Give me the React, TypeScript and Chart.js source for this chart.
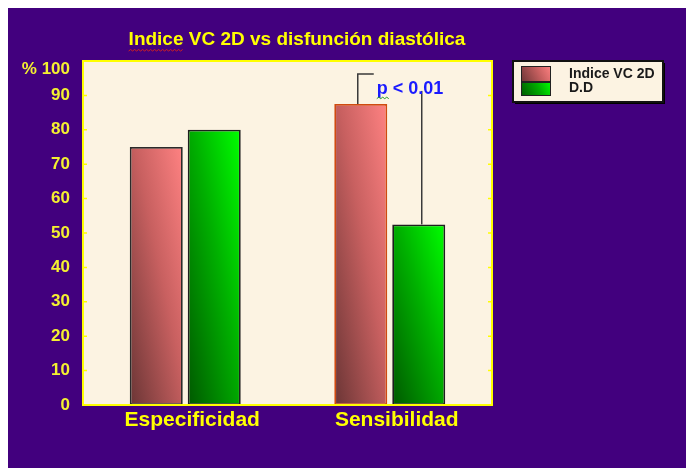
import React, { useEffect, useRef } from "react";
import { Chart, registerables } from "chart.js";

Chart.register(...registerables);

const categories = ["Especificidad", "Sensibilidad"];
const seriesNames = ["Indice VC 2D", "D.D"];
const indiceVC = [75, 87.5];
const dd = [80, 52.5];
const yTicks = [0, 10, 20, 30, 40, 50, 60, 70, 80, 90, 100];
const titleText = "Indice VC 2D vs disfunción diastólica";
const pText = "p < 0.01";

const FONT = "'Liberation Sans', Arial, sans-serif";
const PURPLE = "#42007e";
const CREAM = "#fcf3e2";
const YELLOW = "#ffff00";
const CAT_PCT = 0.567;
const BAR_PCT = 0.914;

const pinkStops = ["#6a3535", "#c86060", "#ff8282"];
const greenStops = ["#005800", "#00b000", "#00ff00"];

function barGradient(c: any, stops: string[]) {
  const chart = c.chart;
  const xs = chart.scales?.x;
  const ys = chart.scales?.y;
  if (!xs || !ys || c.dataIndex === undefined || c.raw === undefined) return stops[2];
  const di = c.datasetIndex;
  const n = categories.length;
  const catW = (xs.right - xs.left) / n;
  const slot = (catW * CAT_PCT) / 2;
  const w = slot * BAR_PCT;
  const cx = xs.getPixelForValue(c.dataIndex) + (di - 0.5) * slot;
  const xl = cx - w / 2;
  const yb = ys.getPixelForValue(0);
  const yt = ys.getPixelForValue(c.raw);
  const h = Math.max(1, yb - yt);
  const k = (2 * h) / ((h * h) / (w * w) + 1);
  const dx = (k * h) / w;
  const dy = k;
  const vals = [xl, yb, dx, dy, w, h];
  if (!vals.every((v) => Number.isFinite(v)) || w <= 0) return stops[2];
  const g = chart.ctx.createLinearGradient(xl, yb, xl + dx, yb - dy);
  g.addColorStop(0, stops[0]);
  g.addColorStop(0.55, stops[1]);
  g.addColorStop(1, stops[2]);
  return g;
}

function squiggle(ctx: CanvasRenderingContext2D, x0: number, x1: number, y: number, color: string) {
  ctx.save();
  ctx.strokeStyle = color;
  ctx.lineWidth = 1;
  ctx.beginPath();
  let up = true;
  ctx.moveTo(x0, y);
  for (let x = x0 + 2; x <= x1; x += 2) {
    ctx.lineTo(x, up ? y - 1.5 : y);
    up = !up;
  }
  ctx.stroke();
  ctx.restore();
}

const decorPlugin = {
  id: "decor",
  beforeDraw(chart: any) {
    const { ctx, width, height } = chart;
    ctx.save();
    ctx.fillStyle = PURPLE;
    ctx.fillRect(0, 0, width, height);
    ctx.restore();
  },
  beforeDatasetsDraw(chart: any) {
    const { ctx, chartArea: a } = chart;
    ctx.save();
    ctx.fillStyle = CREAM;
    ctx.fillRect(a.left, a.top, a.right - a.left, a.bottom - a.top);
    ctx.restore();
  },
  afterDatasetsDraw(chart: any) {
    const { ctx, chartArea: a } = chart;
    const ys = chart.scales.y;
    ctx.save();
    ctx.strokeStyle = YELLOW;
    ctx.lineWidth = 1.5;
    yTicks.forEach((v) => {
      const y = ys.getPixelForValue(v);
      ctx.beginPath();
      ctx.moveTo(a.left, y);
      ctx.lineTo(a.left + 4, y);
      ctx.moveTo(a.right, y);
      ctx.lineTo(a.right - 4, y);
      ctx.stroke();
    });
    ctx.lineWidth = 2;
    ctx.strokeRect(a.left, a.top, a.right - a.left, a.bottom - a.top);

    const b0 = chart.getDatasetMeta(0).data[1];
    const b1 = chart.getDatasetMeta(1).data[1];
    if (b0 && b1) {
      const topY = ys.getPixelForValue(96.2);
      const rightTop = ys.getPixelForValue(91.3);
      ctx.strokeStyle = "#3a3a3a";
      ctx.lineWidth = 1.5;
      ctx.beginPath();
      ctx.moveTo(b0.x - 3, b0.y);
      ctx.lineTo(b0.x - 3, topY);
      ctx.lineTo(b0.x + 13, topY);
      ctx.stroke();
      ctx.beginPath();
      ctx.moveTo(b1.x + 3, b1.y);
      ctx.lineTo(b1.x + 3, rightTop);
      ctx.stroke();
      ctx.fillStyle = "#1a1aff";
      ctx.font = `bold 18px ${FONT}`;
      ctx.textAlign = "left";
      ctx.textBaseline = "alphabetic";
      const tx = b0.x + 16;
      const ty = ys.getPixelForValue(90.5);
      ctx.fillText(pText, tx, ty);
      squiggle(ctx, tx, tx + 13, ty + 5, "#2a9a2a");
    }
    ctx.restore();
  },
  afterDraw(chart: any) {
    const { ctx } = chart;
    ctx.save();
    ctx.font = `bold 19px ${FONT}`;
    ctx.fillStyle = YELLOW;
    ctx.textAlign = "center";
    ctx.textBaseline = "alphabetic";
    ctx.fillText(titleText, 289, 37);
    const tw = ctx.measureText(titleText).width;
    const iw = ctx.measureText("Indice").width;
    const tx0 = 289 - tw / 2;
    squiggle(ctx, tx0, tx0 + iw, 43, "#d02020");

    const lx = 505, ly = 53, lw = 150, lh = 41;
    ctx.fillStyle = "#000000";
    ctx.fillRect(lx + 2, ly + 2, lw, lh);
    ctx.fillStyle = CREAM;
    ctx.fillRect(lx, ly, lw, lh);
    ctx.strokeStyle = "#111111";
    ctx.lineWidth = 2;
    ctx.strokeRect(lx, ly, lw, lh);
    const sx = 513, sw = 30;
    const swatches = [
      { y: 58, h: 16, stops: pinkStops },
      { y: 74, h: 14, stops: greenStops },
    ];
    swatches.forEach((s) => {
      const g = ctx.createLinearGradient(sx, s.y + s.h, sx + sw, s.y);
      g.addColorStop(0, s.stops[0]);
      g.addColorStop(0.6, s.stops[1]);
      g.addColorStop(1, s.stops[2]);
      ctx.fillStyle = g;
      ctx.fillRect(sx, s.y, sw, s.h);
      ctx.strokeStyle = "#222222";
      ctx.lineWidth = 1;
      ctx.strokeRect(sx + 0.5, s.y + 0.5, sw - 1, s.h - 1);
    });
    ctx.fillStyle = "#1a1a1a";
    ctx.font = `bold 14px ${FONT}`;
    ctx.textAlign = "left";
    ctx.fillText(seriesNames[0], 561, 70);
    ctx.fillText(seriesNames[1], 561, 84);
    ctx.restore();
  },
};

export default function App() {
  const ref = useRef<HTMLCanvasElement>(null);
  useEffect(() => {
    if (!ref.current) return;
    const chart = new Chart(ref.current, {
      type: "bar",
      data: {
        labels: categories,
        datasets: [
          {
            label: seriesNames[0],
            data: indiceVC,
            backgroundColor: (c: any) => barGradient(c, pinkStops),
            borderColor: ["#2a2a2a", "#d04a10"],
            borderWidth: 1.8,
            borderSkipped: false,
            categoryPercentage: CAT_PCT,
            barPercentage: BAR_PCT,
          },
          {
            label: seriesNames[1],
            data: dd,
            backgroundColor: (c: any) => barGradient(c, greenStops),
            borderColor: "#1e1e1e",
            borderWidth: 1.8,
            borderSkipped: false,
            categoryPercentage: CAT_PCT,
            barPercentage: BAR_PCT,
          },
        ],
      },
      options: {
        responsive: false,
        animation: false,
        devicePixelRatio: 1,
        layout: { padding: { top: 53, right: 194, left: 0, bottom: 0 } },
        plugins: {
          legend: { display: false },
          title: { display: false },
          tooltip: { enabled: false },
        },
        scales: {
          x: {
            grid: { display: false, drawTicks: false },
            border: { display: false },
            ticks: {
              color: YELLOW,
              padding: 3,
              labelOffset: 7,
              font: { family: FONT, size: 21, weight: "bold" },
            },
            afterFit: (s: any) => {
              s.height = 63;
            },
          },
          y: {
            min: 0,
            max: 100,
            grid: { display: false, drawTicks: false },
            border: { display: false },
            afterBuildTicks: (s: any) => {
              s.ticks = yTicks.map((v) => ({ value: v }));
            },
            ticks: {
              color: "#f4f030",
              padding: 13,
              autoSkip: false,
              font: { family: FONT, size: 17, weight: "bold", lineHeight: 1 },
              callback: (v: any) => (v === 100 ? ["", "% 100"] : String(v)),
            },
            afterFit: (s: any) => {
              s.width = 75;
            },
          },
        },
      },
      plugins: [decorPlugin],
    });
    return () => chart.destroy();
  }, []);
  return (
    <div style={{ position: "fixed", left: 8, top: 8, width: 678, height: 460 }}>
      <canvas ref={ref} width={678} height={460} style={{ display: "block" }} />
    </div>
  );
}
